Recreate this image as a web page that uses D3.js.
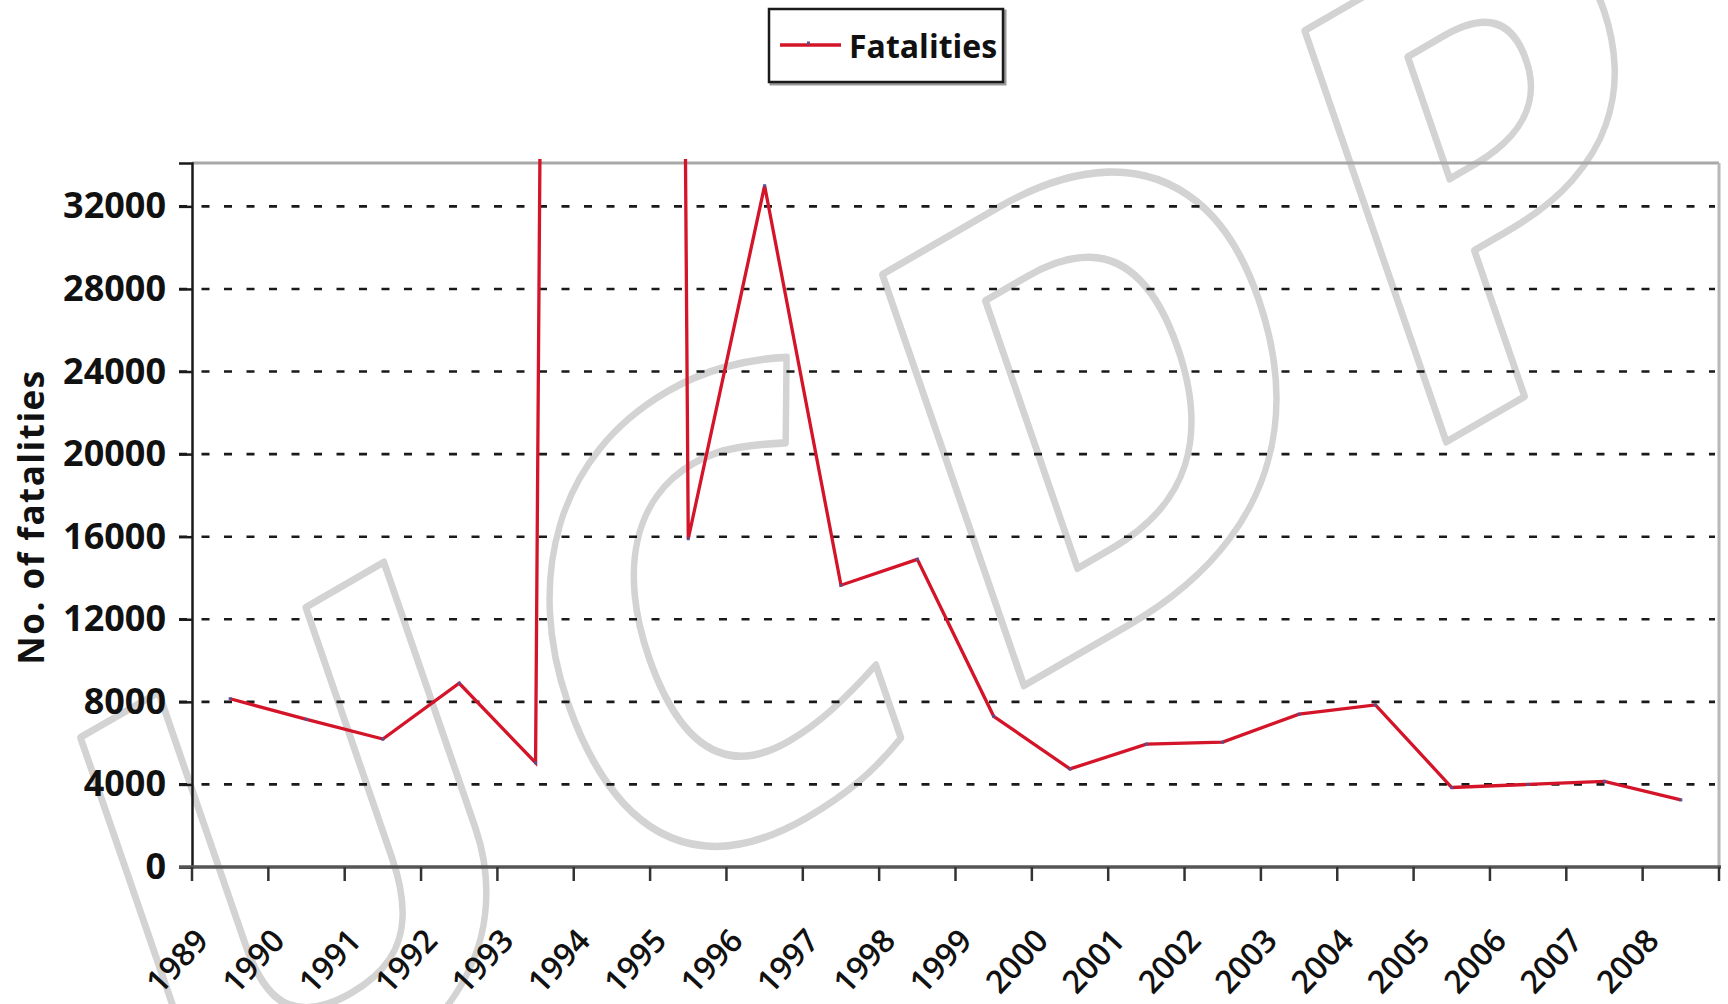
<!DOCTYPE html>
<html>
<head>
<meta charset="utf-8">
<script src="https://cdn.jsdelivr.net/npm/d3@7"></script>
<style>
  html, body { margin: 0; padding: 0; background: #fff; }
  svg text { font-family: "Open Sans", "DejaVu Sans", sans-serif; }
</style>
</head>
<body>
<div id="chart"></div>
<script>
var years = ["1989","1990","1991","1992","1993","1994","1995","1996","1997","1998",
             "1999","2000","2001","2002","2003","2004","2005","2006","2007","2008"];
var fatalities = [8150, 7150, 6200, 8900, 5050, 520000, 15900, 33000, 13650, 14900,
                  7300, 4750, 5950, 6050, 7400, 7850, 3850, 4000, 4150, 3250];
var yTicks = [0, 4000, 8000, 12000, 16000, 20000, 24000, 28000, 32000];
var seriesName = "Fatalities";
var yTitle = "No. of fatalities";
var watermark = "UCDP";

var W = 1728, H = 1004;
var margin = {top: 163, right: 9, bottom: 137, left: 192},
    width = W - margin.left - margin.right,
    height = H - margin.top - margin.bottom;

var x = d3.scaleBand().domain(years).range([0, width]).paddingInner(0).paddingOuter(0);
var y = d3.scaleLinear().domain([0, 34100]).range([height, 0]);

var svg = d3.select("#chart").append("svg")
    .attr("width", W)
    .attr("height", H);

// watermark, slanted outline letters under everything
svg.append("text")
    .attr("transform", "translate(178,1174) rotate(-30) skewX(-11)")
    .attr("text-anchor", "start")
    .style("font-size", "598px")
    .style("font-weight", 700)
    .style("letter-spacing", "45px")
    .attr("fill", "none")
    .attr("stroke", "#d2d3d2")
    .attr("stroke-width", 7)
    .attr("stroke-linejoin", "round")
    .text(watermark);

var g = svg.append("g")
    .attr("transform", "translate(" + margin.left + "," + margin.top + ")");

// plot frame (top and right, grey)
g.append("line").attr("x1", 0).attr("x2", width).attr("y1", 0).attr("y2", 0)
    .attr("stroke", "#a8a8a8").attr("stroke-width", 3);
g.append("line").attr("x1", width).attr("x2", width).attr("y1", 0).attr("y2", height)
    .attr("stroke", "#b8b8b8").attr("stroke-width", 3);

// dashed grid lines
g.selectAll(".grid")
    .data(yTicks.filter(function(d){ return d > 0; }))
    .enter().append("line")
    .attr("class", "grid")
    .attr("x1", -13).attr("x2", width - 4)
    .attr("y1", function(d){ return y(d); })
    .attr("y2", function(d){ return y(d); })
    .attr("stroke", "#1a1a1a")
    .attr("stroke-width", 2.6)
    .attr("stroke-dasharray", "8,14.5");

// y axis
var yAxis = d3.axisLeft(y).tickValues(yTicks).tickSize(13).tickPadding(13).tickFormat(d3.format("d"));
var ya = g.append("g").call(yAxis);
ya.select(".domain").attr("stroke", "#1a1a1a").attr("stroke-width", 2.5);
ya.selectAll(".tick line").attr("stroke", "#1a1a1a").attr("stroke-width", 2.5);
ya.selectAll(".tick text")
    .style("font-size", "36px")
    .style("font-weight", 700)
    .attr("fill", "#111");

// x axis: baseline and ticks on category boundaries
g.append("line").attr("x1", -13).attr("x2", width + 2).attr("y1", height).attr("y2", height)
    .attr("stroke", "#555").attr("stroke-width", 3.5);
var bounds = years.map(function(d){ return x(d); }).concat([width]);
g.selectAll(".xtick")
    .data(bounds)
    .enter().append("line")
    .attr("class", "xtick")
    .attr("x1", function(d){ return d; }).attr("x2", function(d){ return d; })
    .attr("y1", height).attr("y2", height + 14)
    .attr("stroke", "#333").attr("stroke-width", 2.5);

g.selectAll(".xlabel")
    .data(years)
    .enter().append("text")
    .attr("class", "xlabel")
    .attr("transform", function(d){
        return "translate(" + (x(d) + x.bandwidth() / 2 - 20) + "," + (height + 75) + ") rotate(-47)";
    })
    .attr("text-anchor", "end")
    .style("font-size", "32px")
    .style("font-weight", 600)
    .attr("fill", "#111")
    .text(function(d){ return d; });

// y title
svg.append("text")
    .attr("transform", "translate(44,517) rotate(-90)")
    .attr("text-anchor", "middle")
    .style("font-size", "35px")
    .style("font-weight", 700)
    .style("letter-spacing", "1.5px")
    .attr("fill", "#111")
    .text(yTitle);

// line, clipped to plot area
g.append("clipPath").attr("id", "plotclip")
    .append("rect").attr("x", 0).attr("y", -4).attr("width", width).attr("height", height + 4);

var pts = years.map(function(d, i){ return {year: d, value: fatalities[i]}; });
var line = d3.line()
    .x(function(d){ return x(d.year) + x.bandwidth() / 2; })
    .y(function(d){ return y(d.value); });

var lg = g.append("g").attr("clip-path", "url(#plotclip)");
lg.append("path")
    .datum(pts)
    .attr("d", line)
    .attr("fill", "none")
    .attr("stroke", "#d41428")
    .attr("stroke-width", 3.3)
    .attr("stroke-linejoin", "miter");
lg.selectAll(".mk")
    .data(pts)
    .enter().append("rect")
    .attr("class", "mk")
    .attr("x", function(d){ return x(d.year) + x.bandwidth() / 2 - 1.5; })
    .attr("y", function(d){ return y(d.value) - 1.5; })
    .attr("width", 3).attr("height", 3)
    .attr("fill", "#5a4f8f");

// legend
var leg = svg.append("g").attr("transform", "translate(769,9)");
leg.append("rect").attr("x", 2).attr("y", 2).attr("width", 234).attr("height", 73)
    .attr("fill", "none").attr("stroke", "#999").attr("stroke-width", 3);
leg.append("rect").attr("x", 0).attr("y", 0).attr("width", 234).attr("height", 73)
    .attr("fill", "#fff").attr("stroke", "#1a1a1a").attr("stroke-width", 2.5);
leg.append("line").attr("x1", 11).attr("x2", 72).attr("y1", 36).attr("y2", 36)
    .attr("stroke", "#d41428").attr("stroke-width", 3.3);
leg.append("rect").attr("x", 38).attr("y", 32.5).attr("width", 3).attr("height", 3).attr("fill", "#5a4f8f");
leg.append("text").attr("x", 80).attr("y", 49)
    .style("font-size", "32px")
    .style("font-weight", 700)
    .attr("fill", "#111")
    .text(seriesName);
</script>
</body>
</html>
